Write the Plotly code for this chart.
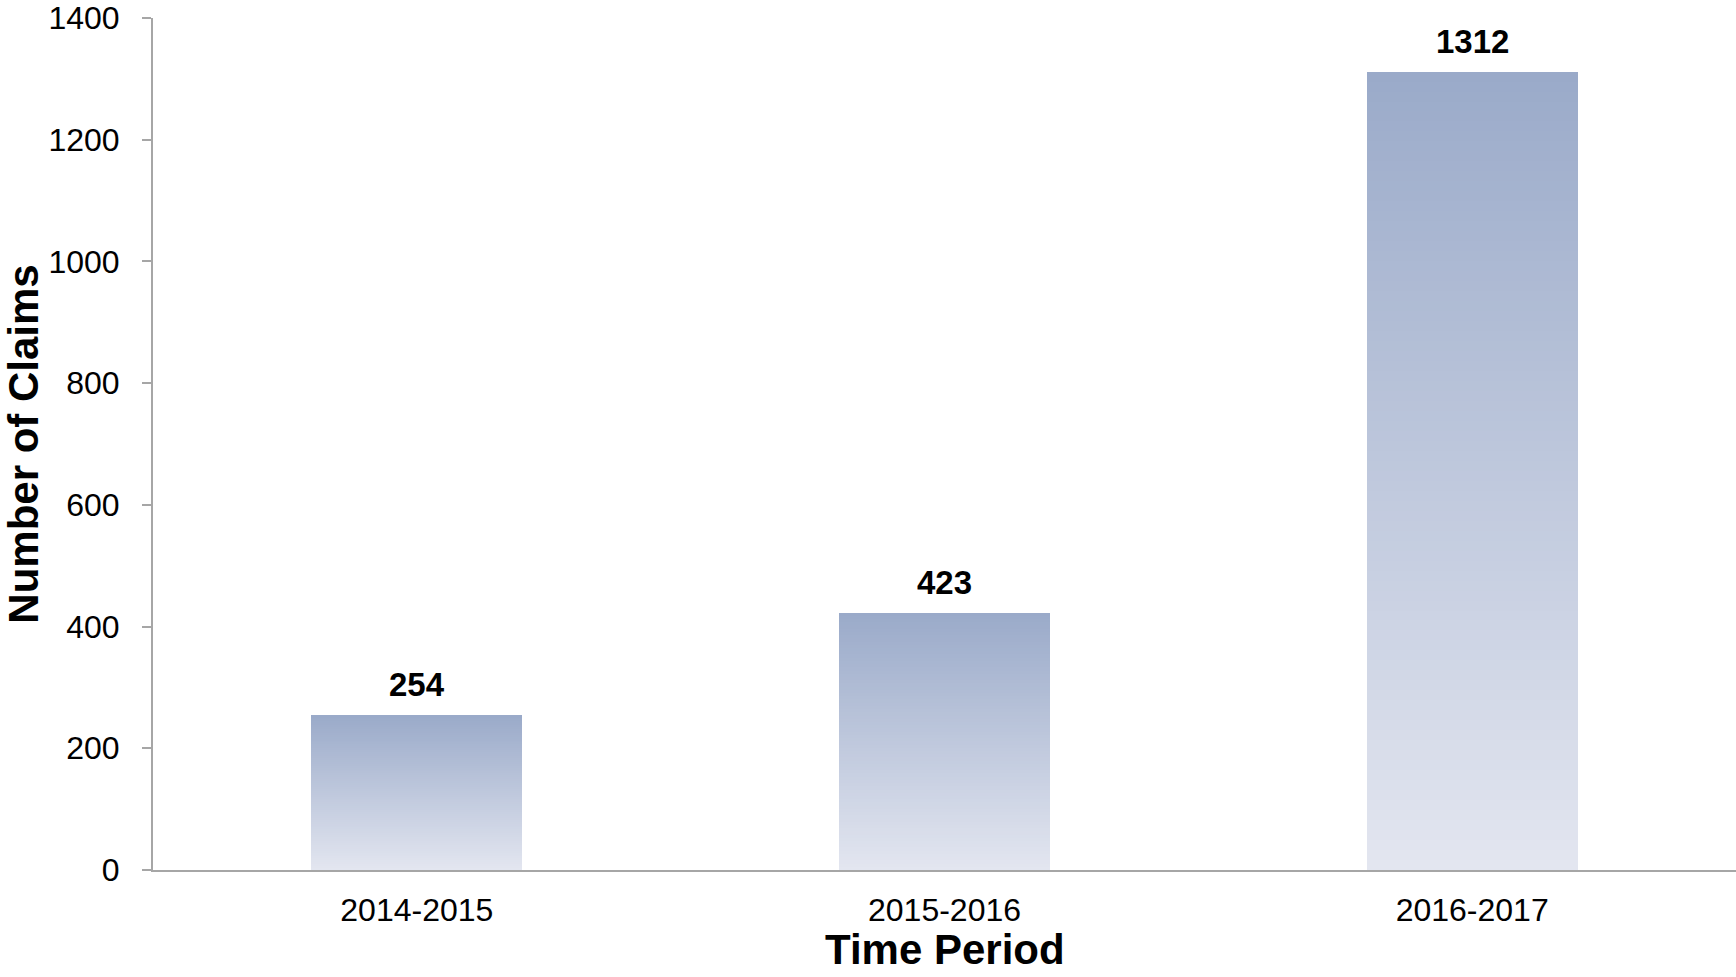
import plotly.graph_objects as go

# Claims per reporting period
periods = ["2014-2015", "2015-2016", "2016-2017"]
claims = [254, 423, 1312]
y_ticks = [0, 200, 400, 600, 800, 1000, 1200, 1400]

# Vertical gradient for the bars (bottom -> top)
bottom_rgb = (227, 230, 240)
top_rgb = (154, 170, 201)
n_slices = 80

FONT = "Liberation Sans, Arial, sans-serif"

fig = go.Figure()


def mix(t):
    r, g, b = (round(bottom_rgb[k] + (top_rgb[k] - bottom_rgb[k]) * t) for k in range(3))
    return f"rgb({r},{g},{b})"


# Each bar is built from thin stacked slices so its fill fades from top to bottom
for i in range(n_slices):
    frac0 = i / n_slices
    frac1 = min(1.0, (i + 1.6) / n_slices)
    fig.add_trace(go.Bar(
        x=periods,
        base=[v * frac0 for v in claims],
        y=[v * (frac1 - frac0) for v in claims],
        width=0.4,
        marker=dict(color=mix((i + 0.5) / n_slices), line=dict(width=0)),
        hoverinfo="skip",
        showlegend=False,
    ))

# Value labels above each bar
for p, v in zip(periods, claims):
    fig.add_annotation(
        x=p, y=v, text=str(v), showarrow=False,
        yanchor="bottom", yshift=10,
        font=dict(family=FONT, size=33, color="#000000", weight="bold"),
    )

# X-axis title, placed below the tick labels
fig.add_annotation(
    x=0.5, xref="paper", y=0, yref="paper", yanchor="top", yshift=-55,
    text="Time Period", showarrow=False, borderpad=0,
    font=dict(size=42, family=FONT, color="#000000", weight="bold"),
)

fig.update_layout(
    width=1736, height=977,
    margin=dict(l=153, r=0, t=14, b=107),
    paper_bgcolor="white", plot_bgcolor="white",
    barmode="overlay",
    bargap=0,
    font=dict(family=FONT, color="#000000"),
    xaxis=dict(
        type="category",
        range=[-0.5, 2.5],
        showline=True, linecolor="#a6a6a6", linewidth=2,
        ticks="", showgrid=False, zeroline=False,
        tickfont=dict(size=32, family=FONT, color="#000000"),
        ticklabelstandoff=11,
    ),
    yaxis=dict(
        range=[0, 1400],
        tickvals=y_ticks,
        ticklabeloverflow="allow",
        showline=True, linecolor="#a6a6a6", linewidth=2,
        ticks="outside", ticklen=9, tickwidth=2, tickcolor="#a6a6a6",
        showgrid=False, zeroline=False,
        tickfont=dict(size=32, family=FONT, color="#000000"),
        ticklabelstandoff=16,
        title=dict(text="Number of Claims", standoff=16,
                   font=dict(size=42, family=FONT, color="#000000", weight="bold")),
    ),
)

fig.write_html("out.html")
